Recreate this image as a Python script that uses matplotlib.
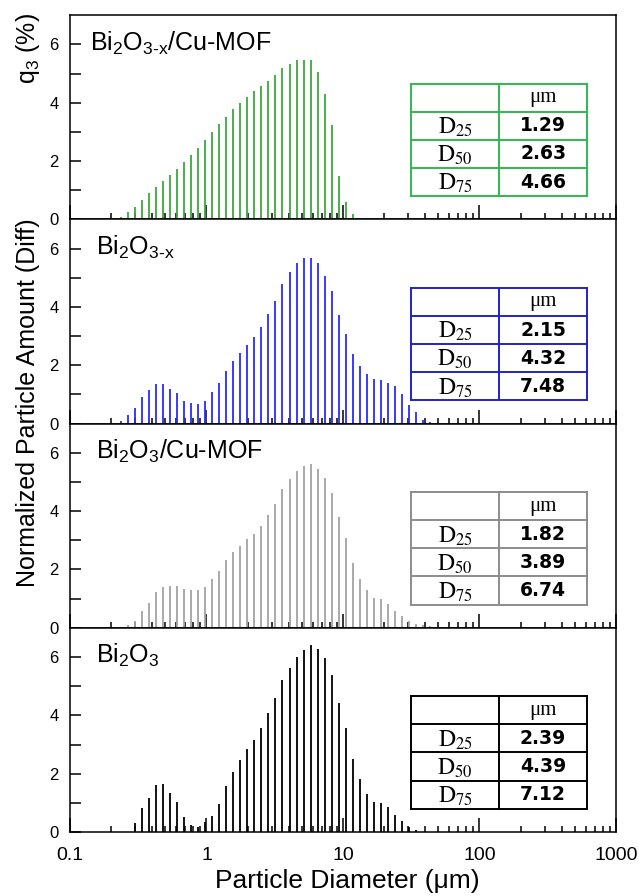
import matplotlib
matplotlib.use('Agg')
import matplotlib.pyplot as plt
from matplotlib.ticker import LogLocator, NullFormatter, FixedLocator

# instrument size classes (um), shared by all four samples
diameters = [0.235, 0.264, 0.298, 0.335, 0.378, 0.425, 0.479, 0.539, 0.607, 0.684,
             0.770, 0.867, 0.976, 1.10, 1.24, 1.39, 1.57, 1.77, 1.99, 2.24,
             2.52, 2.84, 3.20, 3.60, 4.06, 4.57, 5.15, 5.80, 6.53, 7.35,
             8.27, 9.32, 10.5, 11.8, 13.3, 15.0, 16.9, 19.0, 21.4, 24.1,
             27.1, 30.6, 34.4, 38.7, 43.6, 49.1]

q3_bi2o3x_mof = [0.09, 0.25, 0.42, 0.65, 0.89, 1.10, 1.33, 1.51, 1.74, 1.97,
                 2.22, 2.45, 2.72, 2.99, 3.26, 3.52, 3.78, 4.00, 4.20, 4.39,
                 4.57, 4.74, 4.94, 5.18, 5.34, 5.48, 5.48, 5.48, 5.07, 4.30,
                 3.25, 1.50, 0.59, 0.17]
q3_bi2o3x = [0.09, 0.29, 0.53, 0.92, 1.16, 1.36, 1.37, 1.20, 1.05, 0.79,
             0.70, 0.69, 0.79, 1.09, 1.39, 1.81, 2.13, 2.41, 2.70, 2.96,
             3.31, 3.75, 4.20, 4.77, 5.20, 5.52, 5.68, 5.68, 5.50, 5.06,
             4.55, 3.71, 3.06, 2.39, 1.96, 1.71, 1.53, 1.50, 1.39, 1.28,
             1.03, 0.63, 0.39, 0.12, 0.05]
q3_bi2o3_mof = [0.00, 0.08, 0.22, 0.56, 0.86, 1.22, 1.41, 1.45, 1.45, 1.34,
                1.29, 1.29, 1.41, 1.68, 1.95, 2.31, 2.59, 2.82, 3.05, 3.20,
                3.49, 3.87, 4.25, 4.77, 5.11, 5.37, 5.54, 5.60, 5.45, 5.13,
                4.62, 3.79, 3.09, 2.23, 1.66, 1.28, 1.03, 0.99, 0.83, 0.59,
                0.41, 0.25, 0.13, 0.09, 0.06, 0.04]
q3_bi2o3 = [0.00, 0.00, 0.30, 0.82, 1.17, 1.60, 1.63, 1.35, 1.03, 0.50,
            0.25, 0.17, 0.34, 0.55, 0.96, 1.59, 2.06, 2.46, 2.86, 3.17,
            3.58, 4.07, 4.59, 5.20, 5.63, 6.00, 6.24, 6.40, 6.26, 5.97,
            5.39, 4.43, 3.57, 2.51, 1.81, 1.31, 1.03, 1.00, 0.85, 0.59,
            0.38, 0.16, 0.06]

labels = [r'Bi$_\mathrm{2}$O$_\mathrm{3\text{-}x}$/Cu-MOF',
          r'Bi$_\mathrm{2}$O$_\mathrm{3\text{-}x}$',
          r'Bi$_\mathrm{2}$O$_\mathrm{3}$/Cu-MOF',
          r'Bi$_\mathrm{2}$O$_\mathrm{3}$']
series = [q3_bi2o3x_mof, q3_bi2o3x, q3_bi2o3_mof, q3_bi2o3]
bar_colors = ['#3aaa3a', '#2a2aff', '#a3a3a3', '#000000']
table_colors = ['#2fb84f', '#2323c8', '#8c8c8c', '#000000']

d_names = [r'$\mathrm{D}_{25}$', r'$\mathrm{D}_{50}$', r'$\mathrm{D}_{75}$']
d_values = [['1.29', '2.63', '4.66'],
            ['2.15', '4.32', '7.48'],
            ['1.82', '3.89', '6.74'],
            ['2.39', '4.39', '7.12']]


def draw_table(ax, color, values):
    x0, xm, x1 = 0.6245, 0.786, 0.947
    y0, y1 = 0.114, 0.665
    rh = (y1 - y0) / 4
    kw = dict(transform=ax.transAxes, color=color, lw=1.4, clip_on=False)
    for i in range(5):
        y = y0 + i * rh
        ax.plot([x0, x1], [y, y], **kw)
    for x in (x0, xm, x1):
        ax.plot([x, x], [y0, y1], **kw)
    ax.text((xm + x1) / 2, y1 - rh / 2, 'μm', transform=ax.transAxes,
            ha='center', va='center', fontsize=15, family='Liberation Serif')
    for i in range(3):
        yc = y1 - rh * (i + 1.5)
        ax.text((x0 + xm) / 2, yc - 0.008, d_names[i], transform=ax.transAxes,
                ha='center', va='center', fontsize=17, math_fontfamily='stix')
        ax.text((xm + x1) / 2, yc, values[i], transform=ax.transAxes,
                ha='center', va='center', fontsize=13.5, fontweight='bold',
                family='DejaVu Sans')


def plot_psd():
    plt.rcParams['font.family'] = ['Liberation Sans', 'DejaVu Sans']
    plt.rcParams['mathtext.fontset'] = 'custom'
    plt.rcParams['mathtext.rm'] = 'Liberation Sans'
    plt.rcParams['mathtext.it'] = 'Liberation Sans'

    fig, axes = plt.subplots(4, 1, figsize=(6.39, 8.96), dpi=100, sharex=True)
    fig.subplots_adjust(left=0.1095, right=0.964, top=0.983, bottom=0.0714, hspace=0)

    for i, ax in enumerate(axes):
        vals = series[i]
        ax.vlines(diameters[:len(vals)], 0, vals, colors=bar_colors[i], lw=1.3)
        ax.set_xscale('log')
        ax.set_xlim(0.1, 1000)
        ax.set_ylim(0, 7)
        ax.yaxis.set_major_locator(FixedLocator([0, 2, 4, 6]))
        ax.yaxis.set_minor_locator(FixedLocator([1, 3, 5]))
        ax.xaxis.set_major_locator(LogLocator(base=10))
        ax.xaxis.set_minor_locator(LogLocator(base=10, subs=range(2, 10)))
        ax.xaxis.set_minor_formatter(NullFormatter())
        ax.tick_params(axis='y', which='both', direction='in', length=8, width=1.1,
                       labelsize=12, pad=8)
        ax.tick_params(axis='x', which='major', direction='in', length=10, width=1.1,
                       labelsize=14, pad=11)
        ax.tick_params(axis='x', which='minor', direction='in', length=4.5, width=1.1)
        for sp in ax.spines.values():
            sp.set_linewidth(1.1)

        xlab = 0.037 if i == 0 else 0.047
        ax.text(xlab, 0.828, labels[i], transform=ax.transAxes, fontsize=18,
                ha='left', va='baseline')
        draw_table(ax, table_colors[i], d_values[i])

    axes[-1].set_xticks([0.1, 1, 10, 100, 1000])
    axes[-1].set_xticklabels(['0.1', '1', '10', '100', '1000'])

    fig.text(0.543, 0.017, 'Particle Diameter (μm)', ha='center', va='center', fontsize=19)
    fig.text(0.044, 0.551, 'Normalized Particle Amount (Diff)', rotation=90,
             ha='center', va='center', fontsize=18)
    fig.text(0.044, 0.946, r'q$_\mathrm{3}$ (%)', rotation=90,
             ha='center', va='center', fontsize=18)

    fig.savefig('out.png', dpi=100)


if __name__ == '__main__':
    plot_psd()
